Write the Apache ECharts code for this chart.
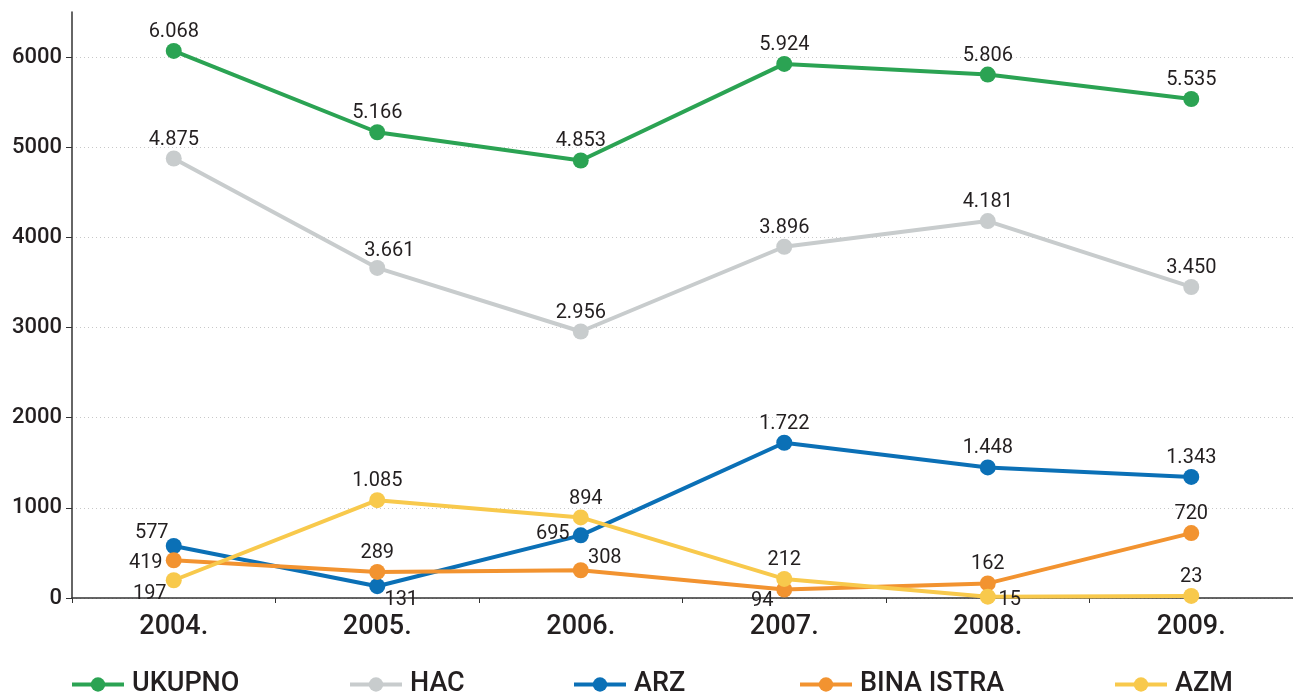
<!DOCTYPE html>
<html>
<head>
<meta charset="utf-8">
<script src="https://cdn.jsdelivr.net/npm/echarts@6/dist/echarts.min.js"></script>
<style>html,body{margin:0;padding:0;background:#fff}#c{width:1293px;height:698px}</style>
</head>
<body>
<div id="c"></div>
<script>
var categories = ['2004.', '2005.', '2006.', '2007.', '2008.', '2009.'];
var ukupno = [6068, 5166, 4853, 5924, 5806, 5535];
var hac = [4875, 3661, 2956, 3896, 4181, 3450];
var arz = [577, 131, 695, 1722, 1448, 1343];
var binaIstra = [419, 289, 308, 94, 162, 720];
var azm = [197, 1085, 894, 212, 15, 23];
var yTicks = [0, 1000, 2000, 3000, 4000, 5000, 6000];

var names = ['UKUPNO', 'HAC', 'ARZ', 'BINA ISTRA', 'AZM'];
var values = [ukupno, hac, arz, binaIstra, azm];
var colors = ['#2ba353', '#c8cccd', '#0b70b6', '#f29330', '#f8c94c'];
var legendLeft = [65, 343, 567, 793, 1108];

// label offsets (dx, dy) relative to default 'top' placement
var labelOffsets = {
  'HAC': {1: [12, 2]},
  'ARZ': {0: [-22, 6], 1: [24, 33], 2: [-28, 18]},
  'BINA ISTRA': {0: [-28, 22], 2: [24, 7], 3: [-22, 30]},
  'AZM': {0: [-24, 33], 2: [5, 1], 4: [22, 22]}
};

function fmt(v) {
  var s = String(v);
  return s.length > 3 ? s.slice(0, s.length - 3) + '.' + s.slice(s.length - 3) : s;
}

var font = 'Roboto';
var series = names.map(function (n, i) {
  return {
    name: n,
    type: 'line',
    data: values[i].map(function (v, j) {
      var o = (labelOffsets[n] || {})[j];
      var d = {value: v};
      if (o) d.label = {offset: o};
      return d;
    }),
    symbol: 'circle',
    symbolSize: 16,
    lineStyle: {width: 4, color: colors[i]},
    itemStyle: {color: colors[i]},
    label: {
      show: true, position: 'top', distance: 1,
      fontFamily: font, fontSize: 20, color: '#231f20',
      formatter: function (p) { return fmt(p.value); }
    },
    emphasis: {disabled: true},
    animation: false,
    z: 2 + i
  };
});

var legends = names.map(function (n, i) {
  return {
    data: [n], left: legendLeft[i], top: 666,
    itemWidth: 52, itemHeight: 18,
    lineStyle: {width: 4},
    textStyle: {fontFamily: font, fontSize: 27, fontWeight: 500, color: '#231f20', padding: [0, 0, 0, 3]},
    selectedMode: false
  };
});

var chart = echarts.init(document.getElementById('c'));
chart.setOption({
  animation: false,
  grid: {left: 72, right: -3, top: 12, bottom: 100},
  legend: legends,
  xAxis: {
    type: 'category',
    data: categories,
    boundaryGap: true,
    axisLine: {lineStyle: {color: '#333333', width: 1.5}},
    axisTick: {show: true, length: 5, lineStyle: {color: '#333333'}},
    axisLabel: {fontFamily: font, fontSize: 27, fontWeight: 500, color: '#231f20', margin: 16}
  },
  yAxis: {
    type: 'value',
    min: yTicks[0], max: 6500, interval: 1000,
    axisLine: {show: true, lineStyle: {color: '#333333', width: 1.5}},
    axisTick: {show: true, length: 6, lineStyle: {color: '#333333'}},
    axisLabel: {fontFamily: font, fontSize: 22, fontWeight: 500, color: '#231f20', margin: 10, showMaxLabel: false,
      formatter: function (v) { return String(v); }},
    splitLine: {show: true, showMaxLine: false, lineStyle: {color: '#c8c8c8', type: [1, 3], width: 1}}
  },
  series: series
});
</script>
</body>
</html>
